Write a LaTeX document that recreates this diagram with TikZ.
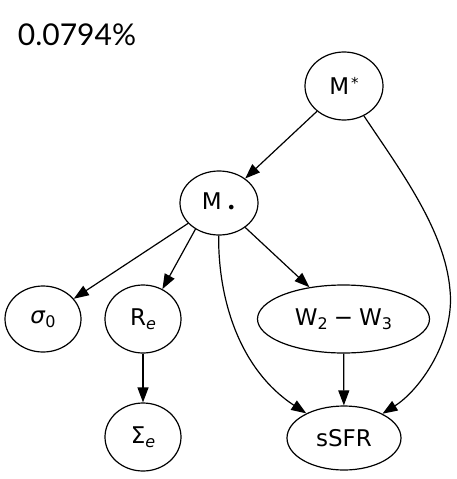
\documentclass[tikz,border=0pt]{standalone}
\usepackage{fontspec}
\setmainfont{DejaVu Sans}
\newfontfamily\titlefont{Lato}
\usetikzlibrary{shapes.geometric,arrows.meta}
\newcommand{\mysub}[1]{\raisebox{-4pt}{\fontsize{16}{18}\selectfont #1}}
\newcommand{\mysup}[1]{\hspace{2pt}\raisebox{6pt}{\fontsize{15}{17}\selectfont #1}}
\begin{document}
\begin{tikzpicture}[x=1pt,y=-1pt,
  gnode/.style={ellipse,draw,line width=1.2pt,inner sep=0pt,font=\fontsize{23}{27}\selectfont},
  edge/.style={line width=1.2pt,-{Triangle[length=15pt,width=11pt]}}]
\useasboundingbox (0,0) rectangle (456,479);
\node[font=\titlefont\fontsize{30}{36}\selectfont] (title) at (77,35) {0.0794\%};
\node[gnode,minimum width=78pt,minimum height=68pt] (Mstar) at (344,86) {M\mysup{*}};
\node[gnode,minimum width=78pt,minimum height=64pt] (Mdot) at (219,203) {M\hspace{5pt}\raisebox{-3.5pt}{\fontsize{16}{18}\selectfont •}};
\node[gnode,minimum width=76pt,minimum height=66pt] (sigma) at (43,319) {\textit{σ}\mysub{0}};
\node[gnode,minimum width=76pt,minimum height=68pt] (Re) at (143,319) {R\mysub{\textit{e}}};
\node[gnode,minimum width=172pt,minimum height=68pt] (W) at (343.5,319) {W\mysub{2}\hspace{6pt}−\hspace{6pt}W\mysub{3}};
\node[gnode,minimum width=76pt,minimum height=68pt] (Se) at (143,437) {Σ\mysub{\textit{e}}};
\node[gnode,minimum width=114pt,minimum height=64pt] (sSFR) at (344,438) {sSFR};
\draw[edge] (Mstar) -- (Mdot);
\draw[edge] (Mstar) .. controls (400,170) and (445,230) .. (450,290) .. controls (455,340) and (420,390) .. (sSFR);
\draw[edge] (Mdot) -- (sigma);
\draw[edge] (Mdot.228) -- (Re.57);
\draw[edge] (Mdot) -- (W);
\draw[edge] (Mdot) .. controls (218,300) and (240,370) .. (sSFR);
\draw[edge] (Re) -- (Se);
\draw[edge] (W) -- (sSFR);
\end{tikzpicture}
\end{document}
